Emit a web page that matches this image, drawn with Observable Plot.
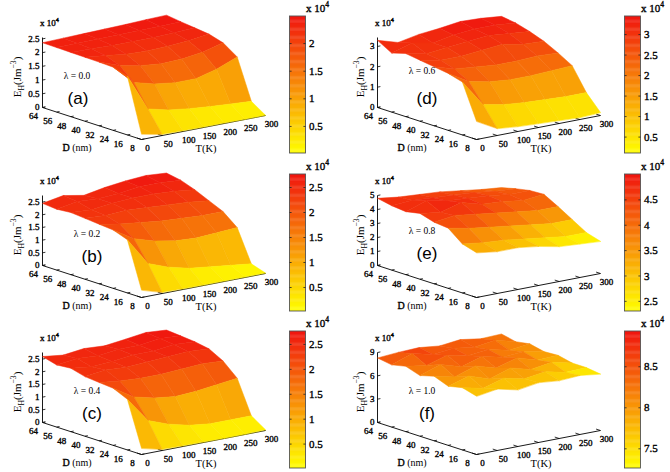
<!DOCTYPE html>
<html><head><meta charset="utf-8">
<script src="https://cdn.jsdelivr.net/npm/d3@7"></script>
<script src="https://cdn.jsdelivr.net/npm/@observablehq/plot@0.6"></script>
<style>
body{margin:0;background:#fff;width:670px;height:472px;overflow:hidden;position:relative;font-family:"Liberation Serif",serif;color:#000;}
.panel{position:absolute;width:335px;height:157px;}
.abs{position:absolute;white-space:nowrap;line-height:1;}
.panel svg{position:absolute;top:0;}
svg text{font-family:"Liberation Serif",serif;font-weight:normal;stroke:#000;stroke-width:0.35px;}
.fb{font-weight:normal;-webkit-text-stroke:0.35px #000;}
sup,sub{font-size:70%;line-height:0;}
</style></head><body>
<script>
// grid
const Dvals=[8,16,24,32,40,48,56,64];
const Tvals=[0,50,100,150,200,250,300];
const Dticks=[64,56,48,40,32,24,16,8];
const Tticks=[0,50,100,150,200,250,300];
// E_H (x 10^4 J m^-3), rows D = 8..64, columns T = 0..300
const E_a=[
 [0.20,0.05,0.03,0.02,0.02,0.01,0.01],
 [2.15,0.80,0.62,0.52,0.45,0.40,0.35],
 [2.30,1.60,1.40,1.30,1.30,1.50,1.80],
 [2.32,2.05,1.90,1.82,1.85,1.95,2.15],
 [2.33,2.25,2.15,2.12,2.15,2.20,2.30],
 [2.34,2.33,2.30,2.30,2.30,2.33,2.36],
 [2.35,2.36,2.37,2.38,2.39,2.40,2.42],
 [2.36,2.38,2.40,2.42,2.44,2.47,2.49]];
const E_b=[
 [0.30,0.05,0.03,0.02,0.02,0.02,0.02],
 [2.10,1.00,0.70,0.50,0.40,0.30,0.20],
 [2.30,1.80,1.55,1.40,1.35,1.40,1.45],
 [2.35,2.20,2.10,2.00,1.95,1.90,1.90],
 [2.40,2.35,2.40,2.35,2.30,2.25,2.15],
 [2.45,2.40,2.50,2.55,2.55,2.50,2.40],
 [2.40,2.55,2.50,2.55,2.65,2.65,2.60],
 [2.45,2.60,2.45,2.60,2.70,2.76,2.70]];
const E_c=[
 [0.25,0.05,0.03,0.02,0.01,0.01,0.03],
 [2.00,1.00,0.70,0.50,0.40,0.40,0.40],
 [2.25,1.75,1.55,1.45,1.50,1.60,1.70],
 [2.30,2.20,2.15,2.15,2.20,2.25,2.20],
 [2.35,2.45,2.40,2.45,2.50,2.55,2.50],
 [2.50,2.40,2.45,2.55,2.55,2.65,2.60],
 [2.45,2.55,2.50,2.60,2.60,2.70,2.65],
 [2.60,2.50,2.60,2.55,2.65,2.76,2.70]];
const E_d=[
 [0.90,0.35,0.25,0.20,0.15,0.10,0.15],
 [2.60,1.30,1.10,1.00,0.95,0.90,0.90],
 [2.80,2.20,2.00,1.90,1.90,1.95,2.00],
 [2.90,2.60,2.50,2.40,2.40,2.45,2.40],
 [3.00,2.80,2.80,2.90,3.00,2.80,2.75],
 [3.10,2.90,3.00,3.10,3.20,3.10,3.00],
 [2.90,3.20,3.00,3.20,3.30,3.30,3.20],
 [3.30,3.00,3.20,3.30,3.44,3.40,3.30]];
const E_e=[
 [3.20,3.00,3.00,2.80,2.50,2.40,2.30],
 [3.50,3.30,3.20,3.00,2.80,2.60,2.60],
 [4.30,4.00,3.80,3.60,3.40,3.20,3.20],
 [4.40,4.60,4.40,4.20,4.00,3.80,3.80],
 [4.70,4.50,4.90,4.50,4.40,4.20,4.35],
 [4.50,5.00,4.70,4.60,4.50,4.30,4.30],
 [4.60,4.70,4.60,4.50,4.40,4.20,4.10],
 [4.80,4.60,4.50,4.40,4.20,4.00,3.85]];
const E_f=[
 [7.50,7.90,7.30,7.70,7.45,7.60,7.26],
 [8.00,7.40,8.20,7.60,8.00,7.40,7.50],
 [7.60,8.40,7.50,8.40,7.70,8.10,7.50],
 [8.30,7.70,8.60,7.80,8.60,7.80,7.90],
 [7.80,8.70,7.90,8.70,8.10,8.30,7.80],
 [8.40,8.00,8.80,8.20,8.50,7.90,8.20],
 [8.00,8.93,8.30,8.60,8.20,8.60,7.90],
 [8.30,8.50,8.60,8.30,8.60,8.20,8.30]];
const zTicks_ac=[0,0.5,1,1.5,2,2.5];
const zTicks_d=[0,1,2,3];
const zTicks_e=[0,1,2,3,4,5];
const zTicks_f=[0,3,6,9];
const cbTicks_a=[0.5,1,1.5,2];
const cbTicks_bc=[0.5,1,1.5,2,2.5];
const cbTicks_d=[0.5,1,1.5,2,2.5,3];
const cbTicks_e=[2.5,3,3.5,4,4.5];
const cbTicks_f=[7.5,8,8.5];
const lambdas=["0.0","0.2","0.4","0.6","0.8","1.0"];
const letters=["a","b","c","d","e","f"];

const panels=[
 {E:E_a,zt:zTicks_ac,zmax:2.55,cb:cbTicks_a,col:0,row:0},
 {E:E_b,zt:zTicks_ac,zmax:2.76,cb:cbTicks_bc,col:0,row:1},
 {E:E_c,zt:zTicks_ac,zmax:2.76,cb:cbTicks_bc,col:0,row:2},
 {E:E_d,zt:zTicks_d,zmax:3.44,cb:cbTicks_d,col:1,row:0},
 {E:E_e,zt:zTicks_e,zmax:5,cb:cbTicks_e,col:1,row:1},
 {E:E_f,zt:zTicks_f,zmax:9,cb:cbTicks_f,col:1,row:2}];

const YEL="#ffff00", RED="#f0140f";
const rowTop=[0,158,315], colLeft=[0,335];
// simple oblique 3-D projection (MATLAB-like view)
const O=[42,107], VD=[99,32], VT=[124,-24], HZ=70;
function proj(D,T,z,zmax){const f=(64-D)/56,g=T/300;return [O[0]+f*VD[0]+g*VT[0],O[1]+f*VD[1]+g*VT[1]-z/zmax*HZ];}

function facets(E,zmax){
  const list=[];
  for(let i=0;i<Dvals.length-1;i++)for(let j=0;j<Tvals.length-1;j++){
    const c=[[i,j],[i+1,j],[i+1,j+1],[i,j+1]];
    const v=d3.mean(c,([a,b])=>E[a][b]);
    const depth=((Dvals[i]+Dvals[i+1])/2-8)/56+((Tvals[j]+Tvals[j+1])/2)/300;
    list.push({c,v,depth});
  }
  list.sort((a,b)=>b.depth-a.depth);
  const out=[];
  list.forEach((f,k)=>f.c.forEach(([a,b])=>{const p=proj(Dvals[a],Tvals[b],E[a][b],zmax);out.push({id:k,x:p[0],y:p[1],v:f.v});}));
  return out;
}

const serif='"Liberation Serif", "Times New Roman", serif';
panels.forEach((P,idx)=>{
  const div=document.createElement("div");
  div.className="panel";
  div.style.left=colLeft[P.col]+"px";div.style.top=rowTop[P.row]+"px";
  document.body.appendChild(div);
  const ext=d3.extent(P.E.flat());
  const color={type:"linear",domain:ext,range:[YEL,RED],interpolate:"rgb"};
  const zm=P.zmax;
  const px=(D,T,z)=>proj(D,T,z,zm)[0], py=(D,T,z)=>proj(D,T,z,zm)[1];
  const axesLines=[[[64,0,0],[64,0,zm]],[[64,0,0],[8,0,0]],[[8,0,0],[8,300,0]]];
  const surf=Plot.plot({
    width:285,height:157,margin:0,
    x:{domain:[0,285],range:[0,285],axis:null},
    y:{domain:[0,157],range:[0,157],axis:null},
    color,
    style:{fontFamily:serif,fontSize:"9px",background:"transparent",overflow:"visible"},
    marks:[
      Plot.link(axesLines,{x1:d=>px(...d[0]),y1:d=>py(...d[0]),x2:d=>px(...d[1]),y2:d=>py(...d[1]),stroke:"#000",strokeWidth:0.9}),
      Plot.link(P.zt,{x1:t=>px(64,0,t),y1:t=>py(64,0,t),x2:t=>px(64,7,t),y2:t=>py(64,7,t),stroke:"#000",strokeWidth:0.8}),
      Plot.link(Dticks,{x1:d=>px(d,0,0),y1:d=>py(d,0,0),x2:d=>px(d,7,0),y2:d=>py(d,7,0),stroke:"#000",strokeWidth:0.8}),
      Plot.link(Tticks,{x1:t=>px(8,t,0),y1:t=>py(8,t,0),x2:t=>px(10.5,t,0),y2:t=>py(10.5,t,0),stroke:"#000",strokeWidth:0.8}),
      Plot.text(P.zt,{x:t=>px(64,0,t),y:t=>py(64,0,t),text:t=>String(t),textAnchor:"end",dx:-3}),
      Plot.text(Dticks,{x:d=>px(d,0,0),y:d=>py(d,0,0),text:d=>String(d),dx:-9,dy:9}),
      Plot.text(Tticks,{x:t=>px(8,t,0),y:t=>py(8,t,0),text:t=>String(t),dx:6,dy:9}),
      Plot.line(facets(P.E,zm),{x:"x",y:"y",z:"id",fill:"v",stroke:"v",strokeWidth:0.5,curve:"linear-closed"})
    ]});
  surf.style.left="0px";
  div.appendChild(surf);

  const bands=d3.range(120).map(k=>({lo:ext[0]+(ext[1]-ext[0])*k/120,hi:ext[0]+(ext[1]-ext[0])*(k+1.3)/120,m:ext[0]+(ext[1]-ext[0])*(k+0.5)/120})).map(b=>({...b,hi:Math.min(b.hi,ext[1])}));
  const cb=Plot.plot({
    width:56,height:157,marginTop:0,marginBottom:0,marginLeft:0,marginRight:34.5,
    x:{domain:[0,1],range:[5.5,21.5],axis:null},
    y:{domain:ext,range:[153,16]},
    color,
    style:{fontFamily:serif,fontSize:"11px",background:"transparent",overflow:"visible"},
    marks:[
      Plot.rect(bands,{x1:0,x2:1,y1:"lo",y2:"hi",fill:"m"}),
      Plot.rect([ext],{x1:0,x2:1,y1:d=>d[0],y2:d=>d[1],fill:"none",stroke:"#555",strokeWidth:0.9}),
      Plot.ruleY(P.cb,{x1:0,x2:0.13,stroke:"#222",strokeWidth:0.8}),
      Plot.ruleY(P.cb,{x1:0.87,x2:1,stroke:"#222",strokeWidth:0.8}),
      Plot.axisY({anchor:"right",ticks:P.cb,tickSize:0,tickPadding:3,label:null,tickFormat:d=>String(d)})
    ]});
  cb.style.left="284px";
  div.appendChild(cb);

  const narrow=P.col===1;
  const html=`
   <div class="abs fb" style="left:40px;top:19px;font-size:9px">x 10<sup>4</sup></div>
   <div class="abs fb" style="left:306px;top:3px;font-size:11px">x 10<sup>4</sup></div>
   <div class="abs" style="left:${narrow?25:17}px;top:77px;font-size:11px;transform:translate(-50%,-50%) rotate(-90deg)">E<sub>H</sub>(Jm<sup>−3</sup>)</div>
   <div class="abs" style="left:${idx===0?77:87}px;top:${idx===3?72:idx===4?74:77}px;font-size:9.5px;transform:translate(-50%,-50%)">λ = ${lambdas[idx]}</div>
   <div class="abs" style="left:${idx===0?78:92}px;top:${idx===4?95:98}px;font-size:17px;font-family:'Liberation Sans',Arial,sans-serif;transform:translate(-50%,-50%)">(${letters[idx]})</div>
   <div class="abs" style="left:77px;top:148px;font-size:10px;transform:translate(-50%,-50%)"><span class="fb">D</span> (nm)</div>
   <div class="abs" style="left:206px;top:149px;font-size:10.5px;transform:translate(-50%,-50%)">T(K)</div>`;
  div.insertAdjacentHTML("beforeend",html);
});
</script>
</body></html>
